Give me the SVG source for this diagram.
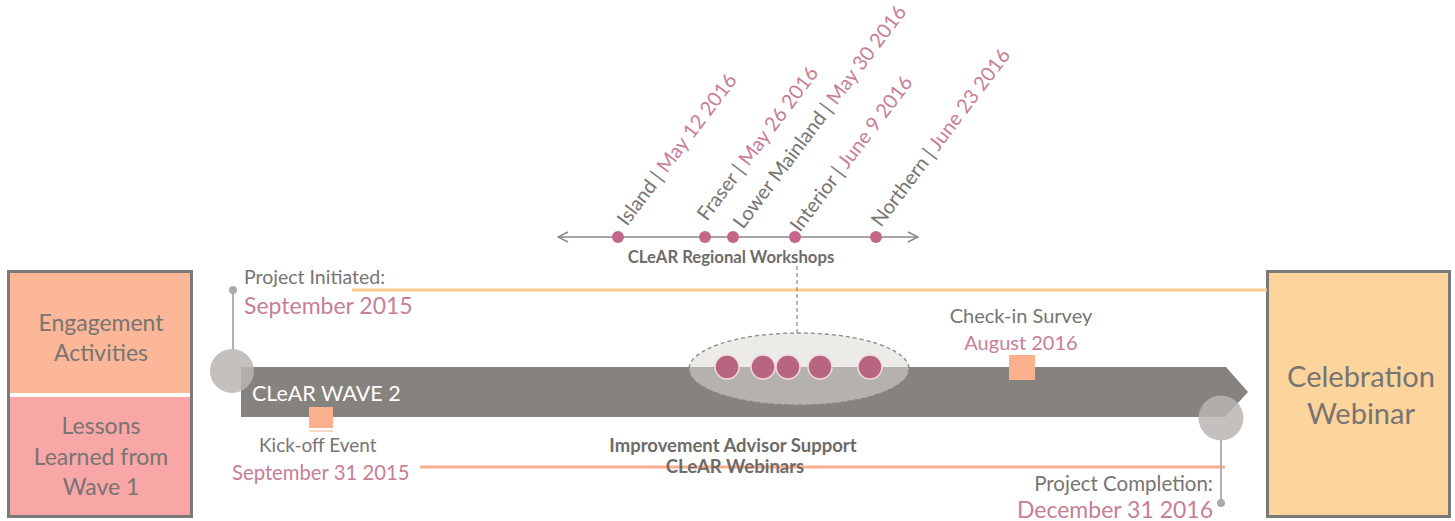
<svg xmlns="http://www.w3.org/2000/svg" width="1455" height="521" viewBox="0 0 1455 521">
  <style>
    text { font-family: Lato, "Open Sans", "Liberation Sans", sans-serif; }
    .g { fill: #777472; }
    .pk { fill: #C77E97; }
    .bd { font-weight: bold; fill: #6E6B69; }
    .mid { text-anchor: middle; }
    .end { text-anchor: end; }
    .wdot { fill: #C4668A; }
    .edot { fill: #B8667F; stroke: #F2D9DE; stroke-width: 1.5; }
    .stem { stroke: #B3B0AE; stroke-width: 2; fill: none; }
    .knob { fill: #ADAAA8; }
    .bubble { fill: #B8B5B2; fill-opacity: 0.85; }
    .tilt { font-size: 20px; }
  </style>
  <defs>
    <marker id="open" viewBox="0 0 12 12" refX="11" refY="6" markerWidth="12" markerHeight="12" markerUnits="userSpaceOnUse" orient="auto-start-reverse">
      <path d="M1,1 L11,6 L1,11" fill="none" stroke="#8A8785" stroke-width="1.5"/>
    </marker>
  </defs>

  <!-- side panels -->
  <g id="left-panel">
    <rect x="8.5" y="271.5" width="183" height="245" fill="#FFFFFF" stroke="#7C7A78" stroke-width="3"/>
    <rect x="10" y="273" width="180" height="120" fill="#FBB797"/>
    <rect x="10" y="397" width="180" height="118" fill="#F9A6A6"/>
    <text class="g mid" x="101" y="331" font-size="23">Engagement</text>
    <text class="g mid" x="101" y="361" font-size="23">Activities</text>
    <text class="g mid" x="101" y="434" font-size="23">Lessons</text>
    <text class="g mid" x="101" y="465" font-size="23">Learned from</text>
    <text class="g mid" x="101" y="495" font-size="23">Wave 1</text>
  </g>

  <g id="celebration-webinar">
    <rect x="1267.5" y="271.5" width="182" height="245" fill="#FDD49C" stroke="#7C7A78" stroke-width="3"/>
    <text class="g mid" x="1361" y="387" font-size="29">Celebration</text>
    <text class="g mid" x="1361" y="424" font-size="29">Webinar</text>
  </g>

  <!-- tracks and connectors -->
  <g id="connectors">
    <line x1="352" y1="290" x2="1267" y2="290" stroke="#FCCB8E" stroke-width="3"/>
    <line x1="420" y1="467" x2="1225" y2="467" stroke="#F9AF8F" stroke-width="3"/>
    <line x1="558" y1="237" x2="918" y2="237" stroke="#8A8785" stroke-width="1.5" marker-start="url(#open)" marker-end="url(#open)"/>
    <line x1="797" y1="266" x2="797" y2="333" stroke="#8A8785" stroke-width="1.2" stroke-dasharray="4 3"/>
    <line class="stem" x1="233" y1="290" x2="233" y2="350"/>
    <line class="stem" x1="1221" y1="440" x2="1221" y2="503"/>
  </g>

  <!-- main wave arrow -->
  <g id="wave-arrow">
    <path d="M241,367 L1226,367 L1248,392 L1225,417 L241,417 Z" fill="#86827E"/>
    <text x="252" y="401" font-size="21.5" fill="#FFFFFF">CLeAR WAVE 2</text>
  </g>

  <!-- start and end markers -->
  <g id="project-initiated">
    <circle class="knob" cx="233" cy="290" r="4"/>
    <circle class="bubble" cx="232" cy="371" r="22"/>
    <text class="g" x="244" y="284" font-size="19.5">Project Initiated:</text>
    <text class="pk" x="244" y="314" font-size="23">September 2015</text>
  </g>

  <g id="project-completion">
    <circle class="bubble" cx="1221" cy="418" r="22.5"/>
    <circle class="knob" cx="1221" cy="503" r="4"/>
    <text class="g end" x="1213" y="491" font-size="20.5">Project Completion:</text>
    <text class="pk end" x="1213" y="518" font-size="23">December 31 2016</text>
  </g>

  <g id="kick-off-event">
    <rect x="309" y="407" width="24" height="21" fill="#FBB08E"/>
    <line x1="309" y1="431" x2="333" y2="431" stroke="#FBC9B0" stroke-width="1.5"/>
    <text class="g" x="259" y="452" font-size="19">Kick-off Event</text>
    <text class="pk" x="232" y="480" font-size="20.3">September 31 2015</text>
  </g>

  <g id="check-in-survey">
    <rect x="1009" y="355" width="26" height="25" fill="#FBB08E"/>
    <text class="g mid" x="1021" y="323" font-size="20">Check-in Survey</text>
    <text class="pk mid" x="1021" y="350" font-size="20">August 2016</text>
  </g>

  <g id="workshop-cluster">
    <ellipse cx="799" cy="369" rx="110" ry="36" fill="#DCDAD6" fill-opacity="0.55" stroke="#8A8785" stroke-width="1.3" stroke-dasharray="4 3"/>
    <circle class="edot" cx="727" cy="367" r="12"/>
    <circle class="edot" cx="763" cy="367" r="12"/>
    <circle class="edot" cx="788" cy="367" r="12"/>
    <circle class="edot" cx="820" cy="367" r="12"/>
    <circle class="edot" cx="870" cy="367" r="12"/>
  </g>

  <g id="regional-workshops">
    <circle class="wdot" cx="618" cy="237" r="6"/>
    <circle class="wdot" cx="705" cy="237" r="6"/>
    <circle class="wdot" cx="733" cy="237" r="6"/>
    <circle class="wdot" cx="795" cy="237" r="6"/>
    <circle class="wdot" cx="876" cy="237" r="6"/>
    <text class="bd mid" x="731" y="263" font-size="16.7">CLeAR Regional Workshops</text>
    <text class="g tilt" transform="translate(627,227) rotate(-53)">Island | <tspan class="pk">May 12 2016</tspan></text>
    <text class="g tilt" transform="translate(707,222) rotate(-53)">Fraser | <tspan class="pk">May 26 2016</tspan></text>
    <text class="g tilt" transform="translate(743,230) rotate(-53)">Lower Mainland | <tspan class="pk">May 30 2016</tspan></text>
    <text class="g tilt" transform="translate(800,233) rotate(-53)">Interior | <tspan class="pk">June 9 2016</tspan></text>
    <text class="g tilt" transform="translate(881,228) rotate(-53)">Northern | <tspan class="pk">June 23 2016</tspan></text>
  </g>

  <g id="advisor-support">
    <text class="bd mid" x="733" y="452" font-size="18.5">Improvement Advisor Support</text>
    <text class="bd mid" x="735" y="473" font-size="18.5">CLeAR Webinars</text>
  </g>
</svg>
